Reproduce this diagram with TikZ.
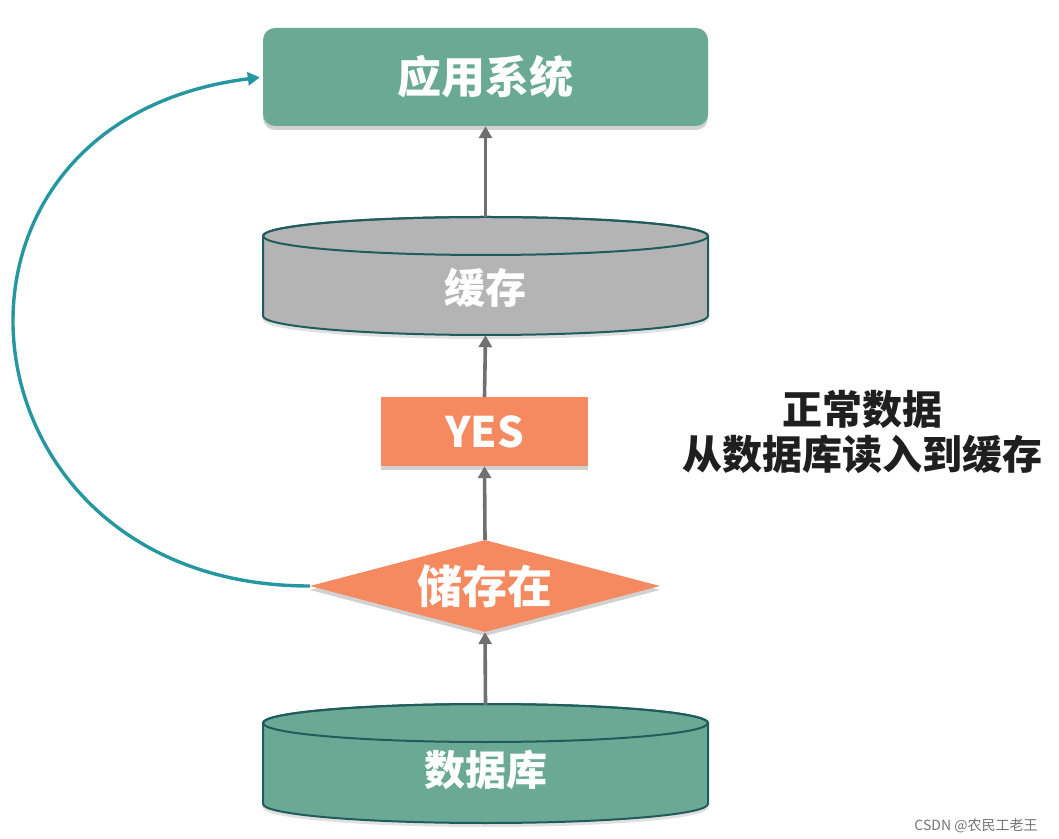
\documentclass[tikz,border=0pt]{standalone}
\usepackage{fontspec}
\setmainfont{Noto Sans CJK SC}
\usetikzlibrary{arrows.meta,positioning,shapes.geometric,shadows}

\definecolor{appgreen}{RGB}{106,170,148}
\definecolor{cachegray}{RGB}{180,180,180}
\definecolor{hitorange}{RGB}{245,137,96}
\definecolor{drumline}{RGB}{32,92,92}
\definecolor{backteal}{RGB}{38,150,160}
\definecolor{flowgray}{RGB}{112,112,112}

\begin{document}
\begin{tikzpicture}[x=1pt,y=1pt]
  \useasboundingbox (0,0) rectangle (1059,838);
  \tikzset{softshadow/.style={drop shadow={shadow xshift=0pt,shadow yshift=-4pt,opacity=0.18,fill=black}}}
  \tikzset{appbox/.style={rectangle,rounded corners=12pt,fill=appgreen,minimum width=445pt,minimum height=98pt,
      softshadow,text=white,font=\fontsize{44}{50}\selectfont\bfseries}}
  \tikzset{yesbox/.style={rectangle,fill=hitorange,minimum width=207pt,minimum height=69pt,inner sep=0pt,
      softshadow,text=white,font=\fontsize{42}{48}\selectfont\bfseries}}
  \tikzset{check/.style={diamond,aspect=3.8,fill=hitorange,minimum width=350pt,minimum height=92pt,inner sep=0pt,
      softshadow,text=white,font=\fontsize{45}{50}\selectfont\bfseries}}
  \tikzset{drumspot/.style={rectangle,minimum width=445pt,minimum height=118pt,inner sep=0pt}}
  \tikzset{drumtext/.style={text=white,font=\fontsize{41}{48}\selectfont\bfseries}}
  \tikzset{drum/.style={draw=drumline,line width=2pt}}
  \tikzset{flow/.style={draw=flowgray,line width=3.6pt,-{Triangle[width=13pt,length=12pt]}}}
  \tikzset{back/.style={draw=backteal,line width=3.4pt,-{Triangle[width=13pt,length=12pt]},shorten >=3pt}}

  % cylinder geometry (top / bottom ellipse centres)
  \def\cx{485.5}
  \def\rx{222.5}
  \def\ry{19}
  \def\cacheT{602}
  \def\cacheB{522}
  \def\dbT{115}
  \def\dbB{34}

  % cache drum
  \fill[black,opacity=0.12] (\cx-\rx,\cacheT-4) -- (\cx-\rx,\cacheB-4) arc (180:360:\rx pt and \ry pt) -- cycle;
  \path[drum,fill=cachegray] (\cx-\rx,\cacheT) -- (\cx-\rx,\cacheB) arc (180:360:\rx pt and \ry pt)
    -- (\cx+\rx,\cacheT) arc (0:180:\rx pt and \ry pt) -- cycle;
  \draw[drum] (\cx,\cacheT) ellipse [x radius=\rx pt,y radius=\ry pt];

  % database drum
  \fill[black,opacity=0.12] (\cx-\rx,\dbT-4) -- (\cx-\rx,\dbB-4) arc (180:360:\rx pt and \ry pt) -- cycle;
  \path[drum,fill=appgreen] (\cx-\rx,\dbT) -- (\cx-\rx,\dbB) arc (180:360:\rx pt and \ry pt)
    -- (\cx+\rx,\dbT) arc (0:180:\rx pt and \ry pt) -- cycle;
  \draw[drum] (\cx,\dbT) ellipse [x radius=\rx pt,y radius=\ry pt];

  % nodes
  \node[appbox] (app) at (485.5,761) {应用系统};
  \node[drumspot] (cache) at (\cx,562) {};
  \node[drumtext] (cachetxt) at (\cx,550) {缓存};
  \node[yesbox] (yes) at (484.5,406.5) {YES};
  \node[check] (exists) at (485,252) {储存在};
  \node[drumspot] (db) at (\cx,74) {};
  \node[drumtext] (dbtxt) at (\cx,68) {数据库};

  \node[align=center,text=black!88,font=\fontsize{40}{45}\selectfont\bfseries] (note) at (862,406)
    {正常数据\\从数据库读入到缓存};
  \node[text=black!55,font=\fontsize{14}{16}\selectfont] (mark) at (976,12) {CSDN @农民工老王};

  % connectors
  \draw[flow] (db.north) -- (exists.south);
  \draw[flow] (exists.north) -- (yes.south);
  \draw[flow] (yes.north) -- (cache.south);
  \draw[flow] (cache.north) -- (app.south);
  \draw[back] (exists.west) .. controls +(-360,0) and +(-360,-45) .. (app.west);
\end{tikzpicture}
\end{document}
